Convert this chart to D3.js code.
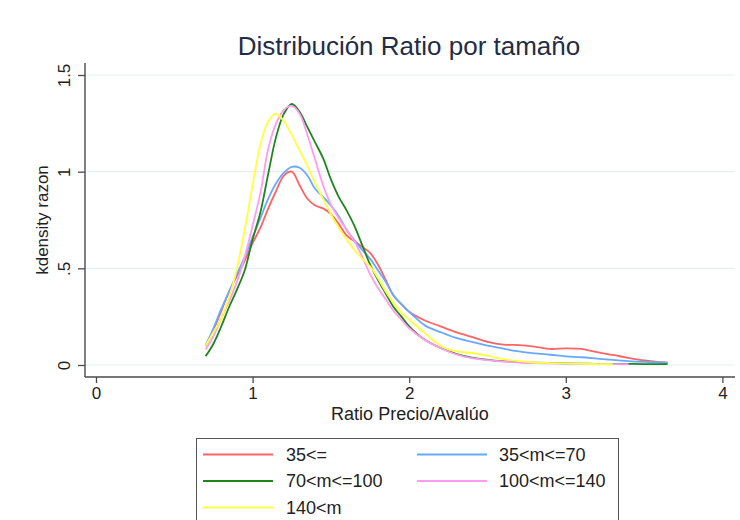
<!DOCTYPE html>
<html>
<head>
<meta charset="utf-8">
<script src="https://cdn.jsdelivr.net/npm/d3@7"></script>
<style>
html,body{margin:0;padding:0;background:#fff;}
svg text{font-family:"Liberation Sans",Arial,sans-serif;}
</style>
</head>
<body>
<svg id="chart" width="740" height="520"></svg>
<script>
// ---- data ----
const xs = [0.7,0.75,0.8,0.85,0.9,0.95,1.0,1.05,1.1,1.15,1.2,1.25,1.3,1.35,1.4,1.45,1.5,1.55,1.6,1.65,1.7,1.75,1.8,1.85,1.9,1.95,2.0,2.1,2.2,2.3,2.4,2.5,2.6,2.7,2.8,2.9,3.0,3.1,3.2,3.3,3.4,3.5,3.65];
const serRed    = [0.10,0.18,0.28,0.38,0.46,0.54,0.63,0.71,0.81,0.90,0.98,1.00,0.93,0.86,0.825,0.81,0.78,0.73,0.67,0.64,0.61,0.58,0.52,0.44,0.36,0.315,0.275,0.23,0.20,0.17,0.145,0.12,0.105,0.103,0.095,0.083,0.086,0.083,0.066,0.052,0.037,0.024,0.012];
const serBlue   = [0.10,0.19,0.29,0.38,0.47,0.56,0.66,0.76,0.86,0.94,0.995,1.025,1.02,0.98,0.91,0.87,0.825,0.77,0.70,0.645,0.595,0.55,0.49,0.43,0.36,0.315,0.275,0.205,0.17,0.14,0.12,0.10,0.085,0.07,0.06,0.053,0.045,0.04,0.033,0.026,0.02,0.016,0.012];
const serGreen  = [0.045,0.11,0.20,0.30,0.39,0.49,0.65,0.79,0.99,1.18,1.30,1.35,1.31,1.23,1.15,1.07,0.96,0.87,0.80,0.72,0.62,0.52,0.44,0.37,0.30,0.25,0.20,0.13,0.088,0.058,0.038,0.027,0.02,0.015,0.012,0.01,0.008,0.007,0.006,0.006,0.006,0.005,0.005];
const serPink   = [0.08,0.15,0.24,0.33,0.43,0.56,0.72,0.89,1.12,1.25,1.32,1.34,1.30,1.19,1.06,0.93,0.83,0.76,0.70,0.64,0.56,0.47,0.40,0.34,0.28,0.235,0.19,0.13,0.088,0.055,0.035,0.025,0.018,0.013,0.01,0.008,0.007,0.006,0.005,0.005,0.004,null,null];
const serYellow = [0.10,0.17,0.24,0.35,0.50,0.70,0.93,1.14,1.26,1.30,1.26,1.19,1.11,1.03,0.94,0.86,0.78,0.71,0.65,0.595,0.55,0.51,0.45,0.38,0.32,0.27,0.235,0.165,0.10,0.07,0.062,0.048,0.03,0.02,0.013,0.01,0.008,0.006,0.005,0.004,null,null,null];
const seriesNames = ["35<=","35<m<=70","70<m<=100","100<m<=140","140<m"];
const seriesColors = ["#ff6464","#66aaff","#1f861f","#ff9cf0","#ffff40"];
const xTicks = [0,1,2,3,4];
const yTicks = [0,0.5,1,1.5];
const yTickLabels = ["0",".5","1","1.5"];
const titleText = "Distribución Ratio por tamaño";
const xTitle = "Ratio Precio/Avalúo";
const yTitle = "kdensity razon";

const allSeries = [serRed, serBlue, serGreen, serPink, serYellow];

// ---- layout ----
const svg = d3.select("#chart");
const x = d3.scaleLinear().domain([0,4]).range([96,722.4]);
const y = d3.scaleLinear().domain([0,1.5]).range([365,75]);
const plotL = 85, plotR = 735, plotT = 63, plotB = 377;
const axisColor = "#4a4a4a";

// gridlines
svg.append("g").selectAll("line").data(yTicks).join("line")
  .attr("x1", plotL).attr("x2", plotR)
  .attr("y1", d=>y(d)).attr("y2", d=>y(d))
  .attr("stroke", "#e6eff1").attr("stroke-width", 1.2);

// y axis
const yAxis = d3.axisLeft(y).tickValues(yTicks).tickFormat((d,i)=>yTickLabels[i]).tickSize(7).tickSizeOuter(0);
const gy = svg.append("g").attr("transform", `translate(${plotL},0)`).call(yAxis);
gy.select(".domain").remove();
gy.selectAll(".tick line").attr("stroke", axisColor).attr("stroke-width", 1.3);
gy.selectAll(".tick text").attr("font-size", 17).attr("fill", "#222")
  .attr("x", 0).attr("dy", 0)
  .attr("text-anchor", "middle")
  .attr("transform", "translate(-15,0) rotate(-90)");
svg.append("line").attr("x1", plotL).attr("x2", plotL).attr("y1", plotT).attr("y2", plotB)
  .attr("stroke", axisColor).attr("stroke-width", 1.4);

// x axis
const xAxis = d3.axisBottom(x).tickValues(xTicks).tickFormat(d3.format("d")).tickSize(6).tickSizeOuter(0);
const gx = svg.append("g").attr("transform", `translate(0,${plotB})`).call(xAxis);
gx.select(".domain").remove();
gx.selectAll(".tick line").attr("stroke", axisColor).attr("stroke-width", 1.3);
gx.selectAll(".tick text").attr("font-size", 17).attr("fill", "#222").attr("y", 8).attr("dy", "0.85em");
svg.append("line").attr("x1", plotL).attr("x2", plotR).attr("y1", plotB).attr("y2", plotB)
  .attr("stroke", axisColor).attr("stroke-width", 1.4);

// curves
const line = d3.line()
  .defined(d => d[1] !== null)
  .x(d => x(d[0])).y(d => y(d[1]))
  .curve(d3.curveCatmullRom.alpha(0.5));
allSeries.forEach((s,i) => {
  const pts = xs.map((v,j)=>[v, s[j]]);
  svg.append("path").datum(pts).attr("d", line)
    .attr("fill","none").attr("stroke", seriesColors[i])
    .attr("stroke-width", 1.8).attr("stroke-linejoin","round");
});

// titles
svg.append("text").attr("x", 409).attr("y", 55).attr("text-anchor","middle")
  .attr("font-size", 26).attr("fill", "#1f2d47").text(titleText);
svg.append("text").attr("x", 410).attr("y", 420).attr("text-anchor","middle")
  .attr("font-size", 18).attr("fill", "#222").text(xTitle);
svg.append("text").attr("transform", "translate(48,220) rotate(-90)").attr("text-anchor","middle")
  .attr("font-size", 17).attr("fill", "#222").text(yTitle);

// legend
const lg = svg.append("g");
lg.append("rect").attr("x", 196.5).attr("y", 438.5).attr("width", 422).attr("height", 100)
  .attr("fill", "#fff").attr("stroke", "#555").attr("stroke-width", 1);
const rowY = [454.5, 481, 507.5];
seriesNames.forEach((nm,i) => {
  const col = i % 2, row = Math.floor(i/2);
  const lx = col === 0 ? 203 : 417;
  const tx = col === 0 ? 286 : 499;
  lg.append("line").attr("x1", lx).attr("x2", lx+70).attr("y1", rowY[row]).attr("y2", rowY[row])
    .attr("stroke", seriesColors[i]).attr("stroke-width", 1.8);
  lg.append("text").attr("x", tx).attr("y", rowY[row]).attr("dy", "0.36em")
    .attr("font-size", 18).attr("fill", "#222").text(nm);
});
</script>
</body>
</html>
